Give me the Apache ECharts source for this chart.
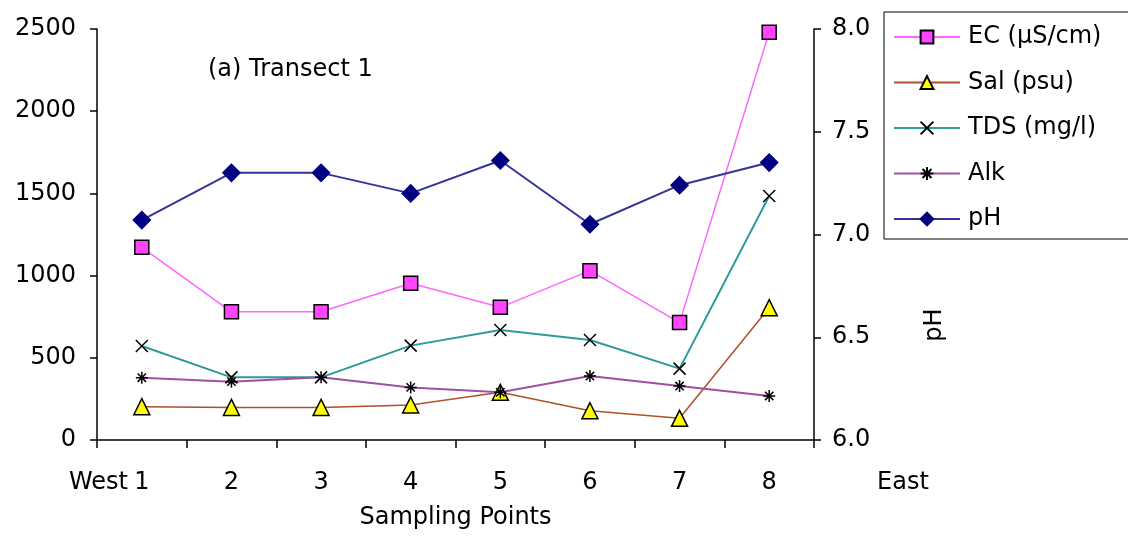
<!DOCTYPE html>
<html>
<head>
<meta charset="utf-8">
<script src="https://cdn.jsdelivr.net/npm/echarts@6/dist/echarts.min.js"></script>
<style>
html,body{margin:0;padding:0;background:#fff;}
#c{width:1128px;height:541px;}
</style>
</head>
<body>
<div id="c"></div>
<script>
const categories = ['1','2','3','4','5','6','7','8'];
const ecValues  = [1172, 780, 780, 953, 807, 1030, 714, 2480];
const salValues = [203, 198, 198, 213, 290, 178, 132, 805];
const tdsValues = [572, 381, 381, 574, 669, 608, 434, 1484];
const alkValues = [379, 355, 381, 320, 290, 389, 328, 268];
const phValues  = [7.07, 7.30, 7.30, 7.20, 7.36, 7.05, 7.24, 7.35];
const leftTicks = [0, 500, 1000, 1500, 2000, 2500];
const rightTicks = [6.0, 6.5, 7.0, 7.5, 8.0];

const FONT = "'DejaVu Sans', 'Liberation Sans', Arial, sans-serif";
const FS = 24;
const X_PATH = 'path://M0,0L10,10M10,0L0,10';
const STAR_PATH = 'path://M0,5L10,5M5,0L5,10M1.5,1.5L8.5,8.5M8.5,1.5L1.5,8.5';

const chart = echarts.init(document.getElementById('c'), null, {renderer:'canvas'});
const txt = {color:'#000', fontFamily:FONT, fontSize:FS};

function mk(name, data, lineColor, symbol, size, fill, border, yIdx, lw){
  return {
    name, type:'line', data, yAxisIndex:yIdx,
    symbol, symbolSize:size, showSymbol:true,
    lineStyle:{color:lineColor, width:lw},
    itemStyle:{color:fill, borderColor:border, borderWidth:1.5},
    emphasis:{disabled:true}, animation:false, z: 2
  };
}

chart.setOption({
  backgroundColor:'#fff',
  animation:false,
  grid:{left:97, right:314, top:29, bottom:101, containLabel:false},
  legend:{
    orient:'vertical', left:884, top:12,
    padding:[10, 40, 5, 9],
    itemWidth:66, itemHeight:16, itemGap:15.5,
    borderColor:'#000', borderWidth:1, backgroundColor:'#fff',
    textStyle:{color:'#000', fontFamily:FONT, fontSize:FS, lineHeight:30, padding:[0,0,0,3]},
    data:['EC (µS/cm)','Sal (psu)','TDS (mg/l)','Alk','pH']
  },
  xAxis:{
    type:'category', data:categories, boundaryGap:true,
    axisLine:{lineStyle:{color:'#000', width:1.5}},
    axisTick:{show:true, interval:0, length:8, lineStyle:{color:'#000', width:1.5}},
    axisLabel:{...txt, margin:31, interval:0},
    name:'Sampling Points', nameLocation:'middle', nameGap:66,
    nameTextStyle:{...txt}
  },
  yAxis:[{
    type:'value', min:leftTicks[0], max:leftTicks[leftTicks.length-1], interval:500,
    axisLine:{show:true, lineStyle:{color:'#000', width:1.5}},
    axisTick:{show:true, length:7, lineStyle:{color:'#000', width:1.5}},
    axisLabel:{...txt, margin:21, formatter:v=>String(v)},
    splitLine:{show:false}
  },{
    type:'value', position:'right', min:rightTicks[0], max:rightTicks[rightTicks.length-1], interval:0.5,
    axisLine:{show:true, lineStyle:{color:'#000', width:1.5}},
    axisTick:{show:true, length:7, lineStyle:{color:'#000', width:1.5}},
    axisLabel:{...txt, margin:18, formatter:v=>v.toFixed(1)},
    splitLine:{show:false}
  }],
  graphic:[
    {type:'text', left:208, top:58, style:{text:'(a) Transect 1', fill:'#000', font:FS+'px '+FONT}},
    {type:'text', x:128, y:483, style:{text:'West', fill:'#000', font:FS+'px '+FONT, align:'right', verticalAlign:'middle'}},
    {type:'text', x:903, y:483, style:{text:'East', fill:'#000', font:FS+'px '+FONT, align:'center', verticalAlign:'middle'}},
    {type:'text', x:935, y:325, rotation:Math.PI/2, style:{text:'pH', fill:'#000', font:FS+'px '+FONT, align:'center', verticalAlign:'middle'}}
  ],
  series:[
    mk('EC (µS/cm)', ecValues, '#FF66FF', 'rect', 14, '#FF44FF', '#000', 0, 1.5),
    mk('Sal (psu)', salValues, '#B0502A', 'triangle', 16, '#FFFF00', '#000', 0, 1.5),
    mk('TDS (mg/l)', tdsValues, '#2E9A9A', X_PATH, 12, 'none', '#000', 0, 2),
    mk('Alk', alkValues, '#A050A0', STAR_PATH, 12, 'none', '#000', 0, 2),
    mk('pH', phValues, '#333399', 'diamond', 17, '#000080', '#000080', 1, 2)
  ]
});
</script>
</body>
</html>
